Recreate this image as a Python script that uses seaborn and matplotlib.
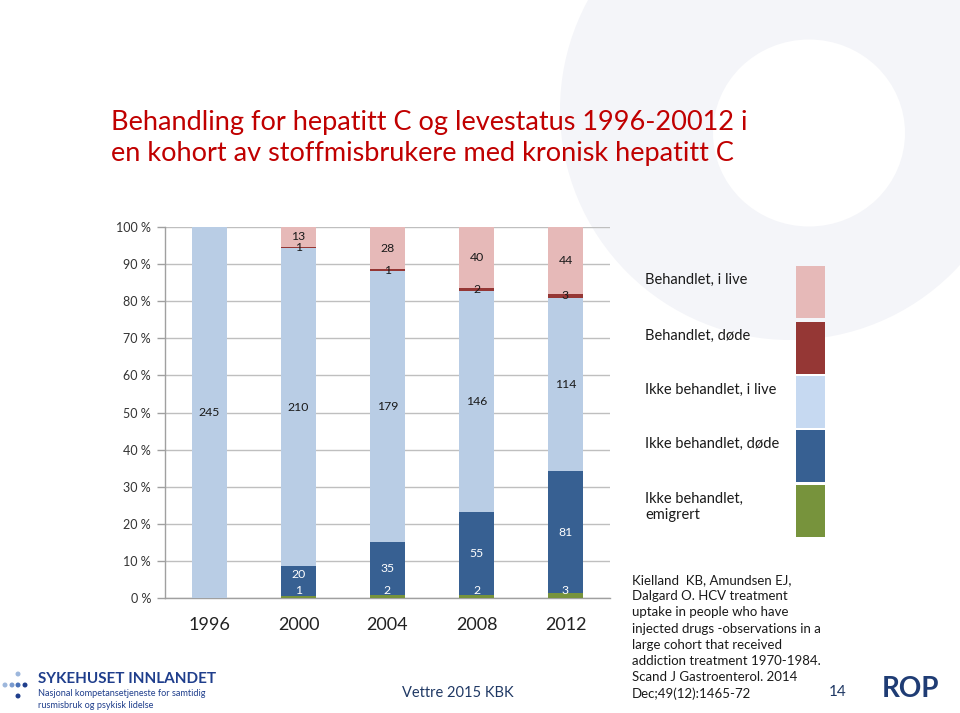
import numpy as np
import pandas as pd
import matplotlib
matplotlib.use("Agg")
import matplotlib.pyplot as plt
import seaborn as sns
from matplotlib.patches import Rectangle, Ellipse

# ---------------- data ----------------
years = ["1996", "2000", "2004", "2008", "2012"]
emigrert = [0, 1, 2, 2, 3]            # Ikke behandlet, emigrert
ikke_dode = [0, 20, 35, 55, 81]       # Ikke behandlet, døde
ikke_live = [245, 210, 179, 146, 114] # Ikke behandlet, i live
beh_dode = [0, 1, 1, 2, 3]            # Behandlet, døde
beh_live = [0, 13, 28, 40, 44]        # Behandlet, i live

series_names = ["Ikke behandlet, emigrert", "Ikke behandlet, døde",
                "Ikke behandlet, i live", "Behandlet, døde", "Behandlet, i live"]
series_vals = [emigrert, ikke_dode, ikke_live, beh_dode, beh_live]
bar_colors = ["#77933C", "#376092", "#B9CDE5", "#953735", "#E6B9B8"]
legend_colors = ["#77933C", "#376092", "#C6D9F1", "#953735", "#E6B9B8"]
label_colors = ["white", "white", "#1a1a1a", "#1a1a1a", "#1a1a1a"]
label_min = [2.1, 6.3, 0, 0, 0]   # Excel keeps small labels apart
ytick_vals = [0, 10, 20, 30, 40, 50, 60, 70, 80, 90, 100]
ytick_labels = [f"{v} %" for v in ytick_vals]

title = "Behandling for hepatitt C og levestatus 1996-20012 i\nen kohort av stoffmisbrukere med kronisk hepatitt C"
reference = ["Kielland  KB, Amundsen EJ,", "Dalgard O. HCV treatment",
             "uptake in people who have", "injected drugs -observations in a",
             "large cohort that received", "addiction treatment 1970-1984.",
             "Scand J Gastroenterol. 2014", "Dec;49(12):1465-72"]

# ---------------- style ----------------
sns.set_theme(style="white")
plt.rcParams["font.family"] = ["Lato", "DejaVu Sans"]

W, H = 960, 713
fig = plt.figure(figsize=(W / 100, H / 100), dpi=100)
fig.patch.set_facecolor("white")

def px(x):
    return x / W

def py(y):
    return 1 - y / H

# faint watermark ring
fig.add_artist(Ellipse((px(790), py(110)), 460 / W, 460 / H, transform=fig.transFigure,
                       facecolor="#F4F5F9", edgecolor="none", zorder=-10))
fig.add_artist(Ellipse((px(809), py(133)), 192 / W, 187 / H, transform=fig.transFigure,
                       facecolor="white", edgecolor="none", zorder=-9))

ax = fig.add_axes([px(165), py(598), px(610) - px(165), py(227) - py(598)])
ax.set_facecolor("none")

total = np.sum(series_vals, axis=0)
bottom = np.zeros(len(years))
for name, vals, col, lcol, lmin in zip(series_names, series_vals, bar_colors,
                                       label_colors, label_min):
    pct = np.array(vals) / total * 100
    d = pd.DataFrame({"year": years, "pct": pct})
    sns.barplot(data=d, x="year", y="pct", color=col, width=0.4, bottom=bottom,
                errorbar=None, ax=ax, saturation=1, edgecolor="none", linewidth=0, zorder=3)
    for i, (v, p, b) in enumerate(zip(vals, pct, bottom)):
        if v > 0:
            yc = max(b + p / 2, lmin)
            ax.text(i, yc, str(v), ha="center", va="center", fontsize=8.8,
                    color=lcol, zorder=5)
    bottom = bottom + pct

ax.set_xlim(-0.5, 4.5)
ax.set_ylim(0, 100)
ax.set_yticks(ytick_vals)
ax.set_yticklabels(ytick_labels, fontsize=9, color="#333333")
ax.set_xticks(range(len(years)))
ax.set_xticklabels(years, fontsize=13, color="#222222")
ax.set_xticks(np.arange(-0.5, 5, 1), minor=True)
ax.tick_params(axis="x", which="major", length=0, pad=14)
ax.tick_params(axis="x", which="minor", length=6, color="#A0A0A0", width=1, direction="out")
ax.tick_params(axis="y", length=6, color="#A0A0A0", width=1, direction="out", pad=4, left=True)
ax.yaxis.grid(True, color="#BFBFBF", linewidth=1)
ax.set_axisbelow(True)
ax.set_xlabel("")
ax.set_ylabel("")
for s in ["top", "right"]:
    ax.spines[s].set_visible(False)
for s in ["left", "bottom"]:
    ax.spines[s].set_visible(True)
    ax.spines[s].set_color("#A0A0A0")
    ax.spines[s].set_linewidth(1)

# title
fig.text(px(111), py(138), title, ha="left", va="center", fontsize=19.5,
         color="#C00000", linespacing=1.32)

# legend (manual, right side)
leg_tops = [266, 322, 376, 430, 485]
leg_h = 52
for name, col, top in zip(series_names[::-1], legend_colors[::-1], leg_tops):
    fig.add_artist(Rectangle((px(796), py(top + leg_h)), 29 / W, leg_h / H,
                             transform=fig.transFigure, facecolor=col, edgecolor="none"))
    txt = name.replace("Ikke behandlet, emigrert", "Ikke behandlet,\nemigrert")
    fig.text(px(645), py(top + 7), txt, ha="left", va="top", fontsize=10.5,
             color="#1a1a1a", linespacing=1.15)

# reference text
for k, line in enumerate(reference):
    fig.text(px(632), py(580 + k * 16.2), line, ha="left", va="center",
             fontsize=9.5, color="#1a1a1a")

# footer
fig.text(px(458), py(693), "Vettre 2015 KBK", ha="center", va="center",
         fontsize=10.5, color="#1F3864")
fig.text(px(838), py(692), "14", ha="center", va="center", fontsize=11, color="#1F3864")
fig.text(px(910), py(689), "ROP", ha="center", va="center", fontsize=20,
         fontweight="bold", color="#1F3C74")
for (x, y, c) in [(5, 685, "#9DB7DC"), (12, 685, "#7A9BCF"), (18, 685, "#4A72B8"),
                  (25, 685, "#1F3E8C"), (18, 674, "#9DB7DC"), (18, 696, "#1F3E8C")]:
    fig.add_artist(Ellipse((px(x), py(y)), 5 / W, 5 / H, transform=fig.transFigure,
                           facecolor=c, edgecolor="none"))
fig.text(px(38), py(679), "SYKEHUSET INNLANDET", ha="left", va="center", fontsize=11,
         fontweight="bold", color="#1F3E8C")
fig.text(px(38), py(694), "Nasjonal kompetansetjeneste for samtidig", ha="left",
         va="center", fontsize=6.6, color="#1F3E8C")
fig.text(px(38), py(706), "rusmisbruk og psykisk lidelse", ha="left",
         va="center", fontsize=6.6, color="#1F3E8C")

fig.savefig("out.png", dpi=100, facecolor="white")
